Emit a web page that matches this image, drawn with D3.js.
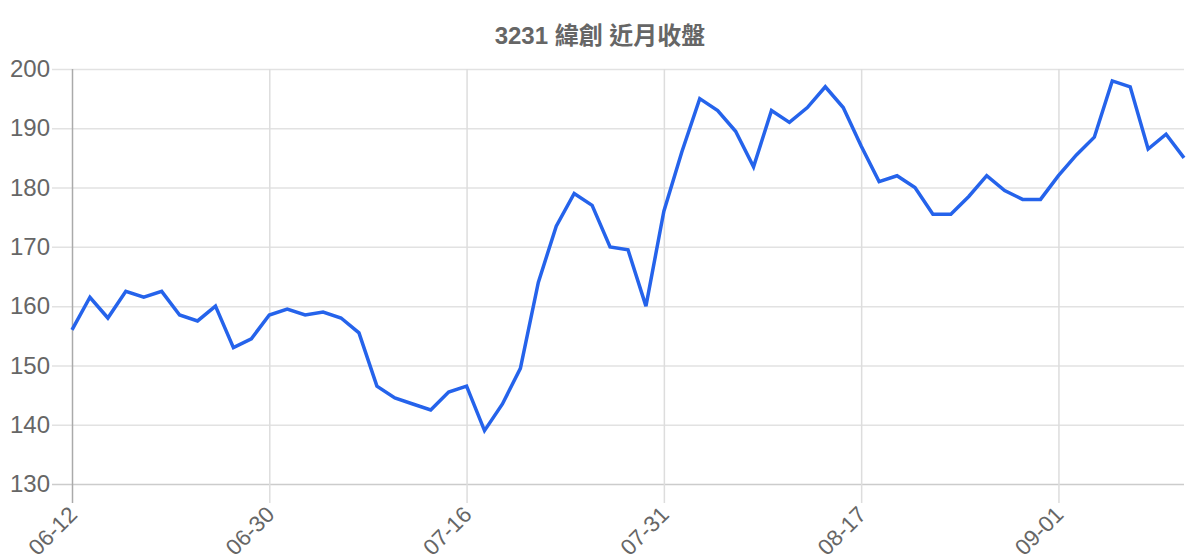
<!DOCTYPE html>
<html><head><meta charset="utf-8">
<script src="https://cdn.jsdelivr.net/npm/d3@7"></script>
<style>
html,body{margin:0;padding:0;background:#fff;}
svg{display:block;font-family:"Liberation Sans",Arial,"Noto Sans CJK TC",sans-serif;}
</style></head>
<body>
<svg id="chart" width="1200" height="560"></svg>
<script>
const title = "3231 緯創 近月收盤";
const closes = [156,161.5,158,162.5,161.5,162.5,158.5,157.5,160,153,154.5,158.5,159.5,158.5,159,158,155.5,146.5,144.5,143.5,142.5,145.5,146.5,139,143.5,149.5,164,173.5,179,177,170,169.5,160,176,186,195,193,189.5,183.5,193,191,193.5,197,193.5,187,181,182,180,175.5,175.5,178.5,182,179.5,178,178,182,185.5,188.5,198,197,186.5,189,185];
const tickIndex = [0,11,22,33,44,55];
const tickLabels = ["06-12","06-30","07-16","07-31","08-17","09-01"];
const yTicks = [130,140,150,160,170,180,190,200];

const svg = d3.select("#chart");
const m = {left:72, right:16, top:69, bottom:76};
const W = 1200, H = 560;
const x = d3.scaleLinear().domain([0, closes.length-1]).range([m.left, W-m.right]);
const y = d3.scaleLinear().domain([130,200]).range([H-m.bottom, m.top]);

// horizontal grid + y labels
const yAxis = d3.axisLeft(y).tickValues(yTicks).tickSize(-(W-m.right-m.left)-20).tickFormat(d3.format("d")).tickPadding(2);
const gy = svg.append("g").attr("transform",`translate(${m.left-20},0)`);
gy.call(yAxis);
gy.select(".domain").remove();
gy.selectAll(".tick line").attr("stroke",d=>d===130?"#cccccc":"#e2e2e2").attr("stroke-width",1.5).attr("x1",0).attr("x2",W-m.right-m.left+20);
gy.selectAll(".tick text").attr("fill","#666").attr("font-size",24).attr("x",-2);

// vertical grid + x labels
const xAxis = d3.axisBottom(x).tickValues(tickIndex).tickFormat((d,i)=>tickLabels[i]).tickSize(0);
const gx = svg.append("g").attr("transform",`translate(0,${H-m.bottom})`);
gx.call(xAxis);
gx.select(".domain").remove();
gx.selectAll(".tick line").attr("y1",-(H-m.bottom-m.top)).attr("y2",19)
  .attr("stroke",d=>d===0?"#aaaaaa":"#dddddd").attr("stroke-width",1.5);
gx.selectAll(".tick text").attr("fill","#666").attr("font-size",22.5)
  .attr("text-anchor","end").attr("y",0).attr("dy",0)
  .attr("transform","translate(6,32) rotate(-45)");

// line
svg.append("path").datum(closes)
  .attr("fill","none").attr("stroke","#2563eb").attr("stroke-width",3.5)
  .attr("stroke-linejoin","miter")
  .attr("d", d3.line().x((d,i)=>x(i)).y(d=>y(d)));

svg.append("text").attr("x",600).attr("y",44).attr("text-anchor","middle")
  .attr("font-size",24).attr("font-weight","bold").attr("fill","#666").text(title);
</script>
</body></html>
